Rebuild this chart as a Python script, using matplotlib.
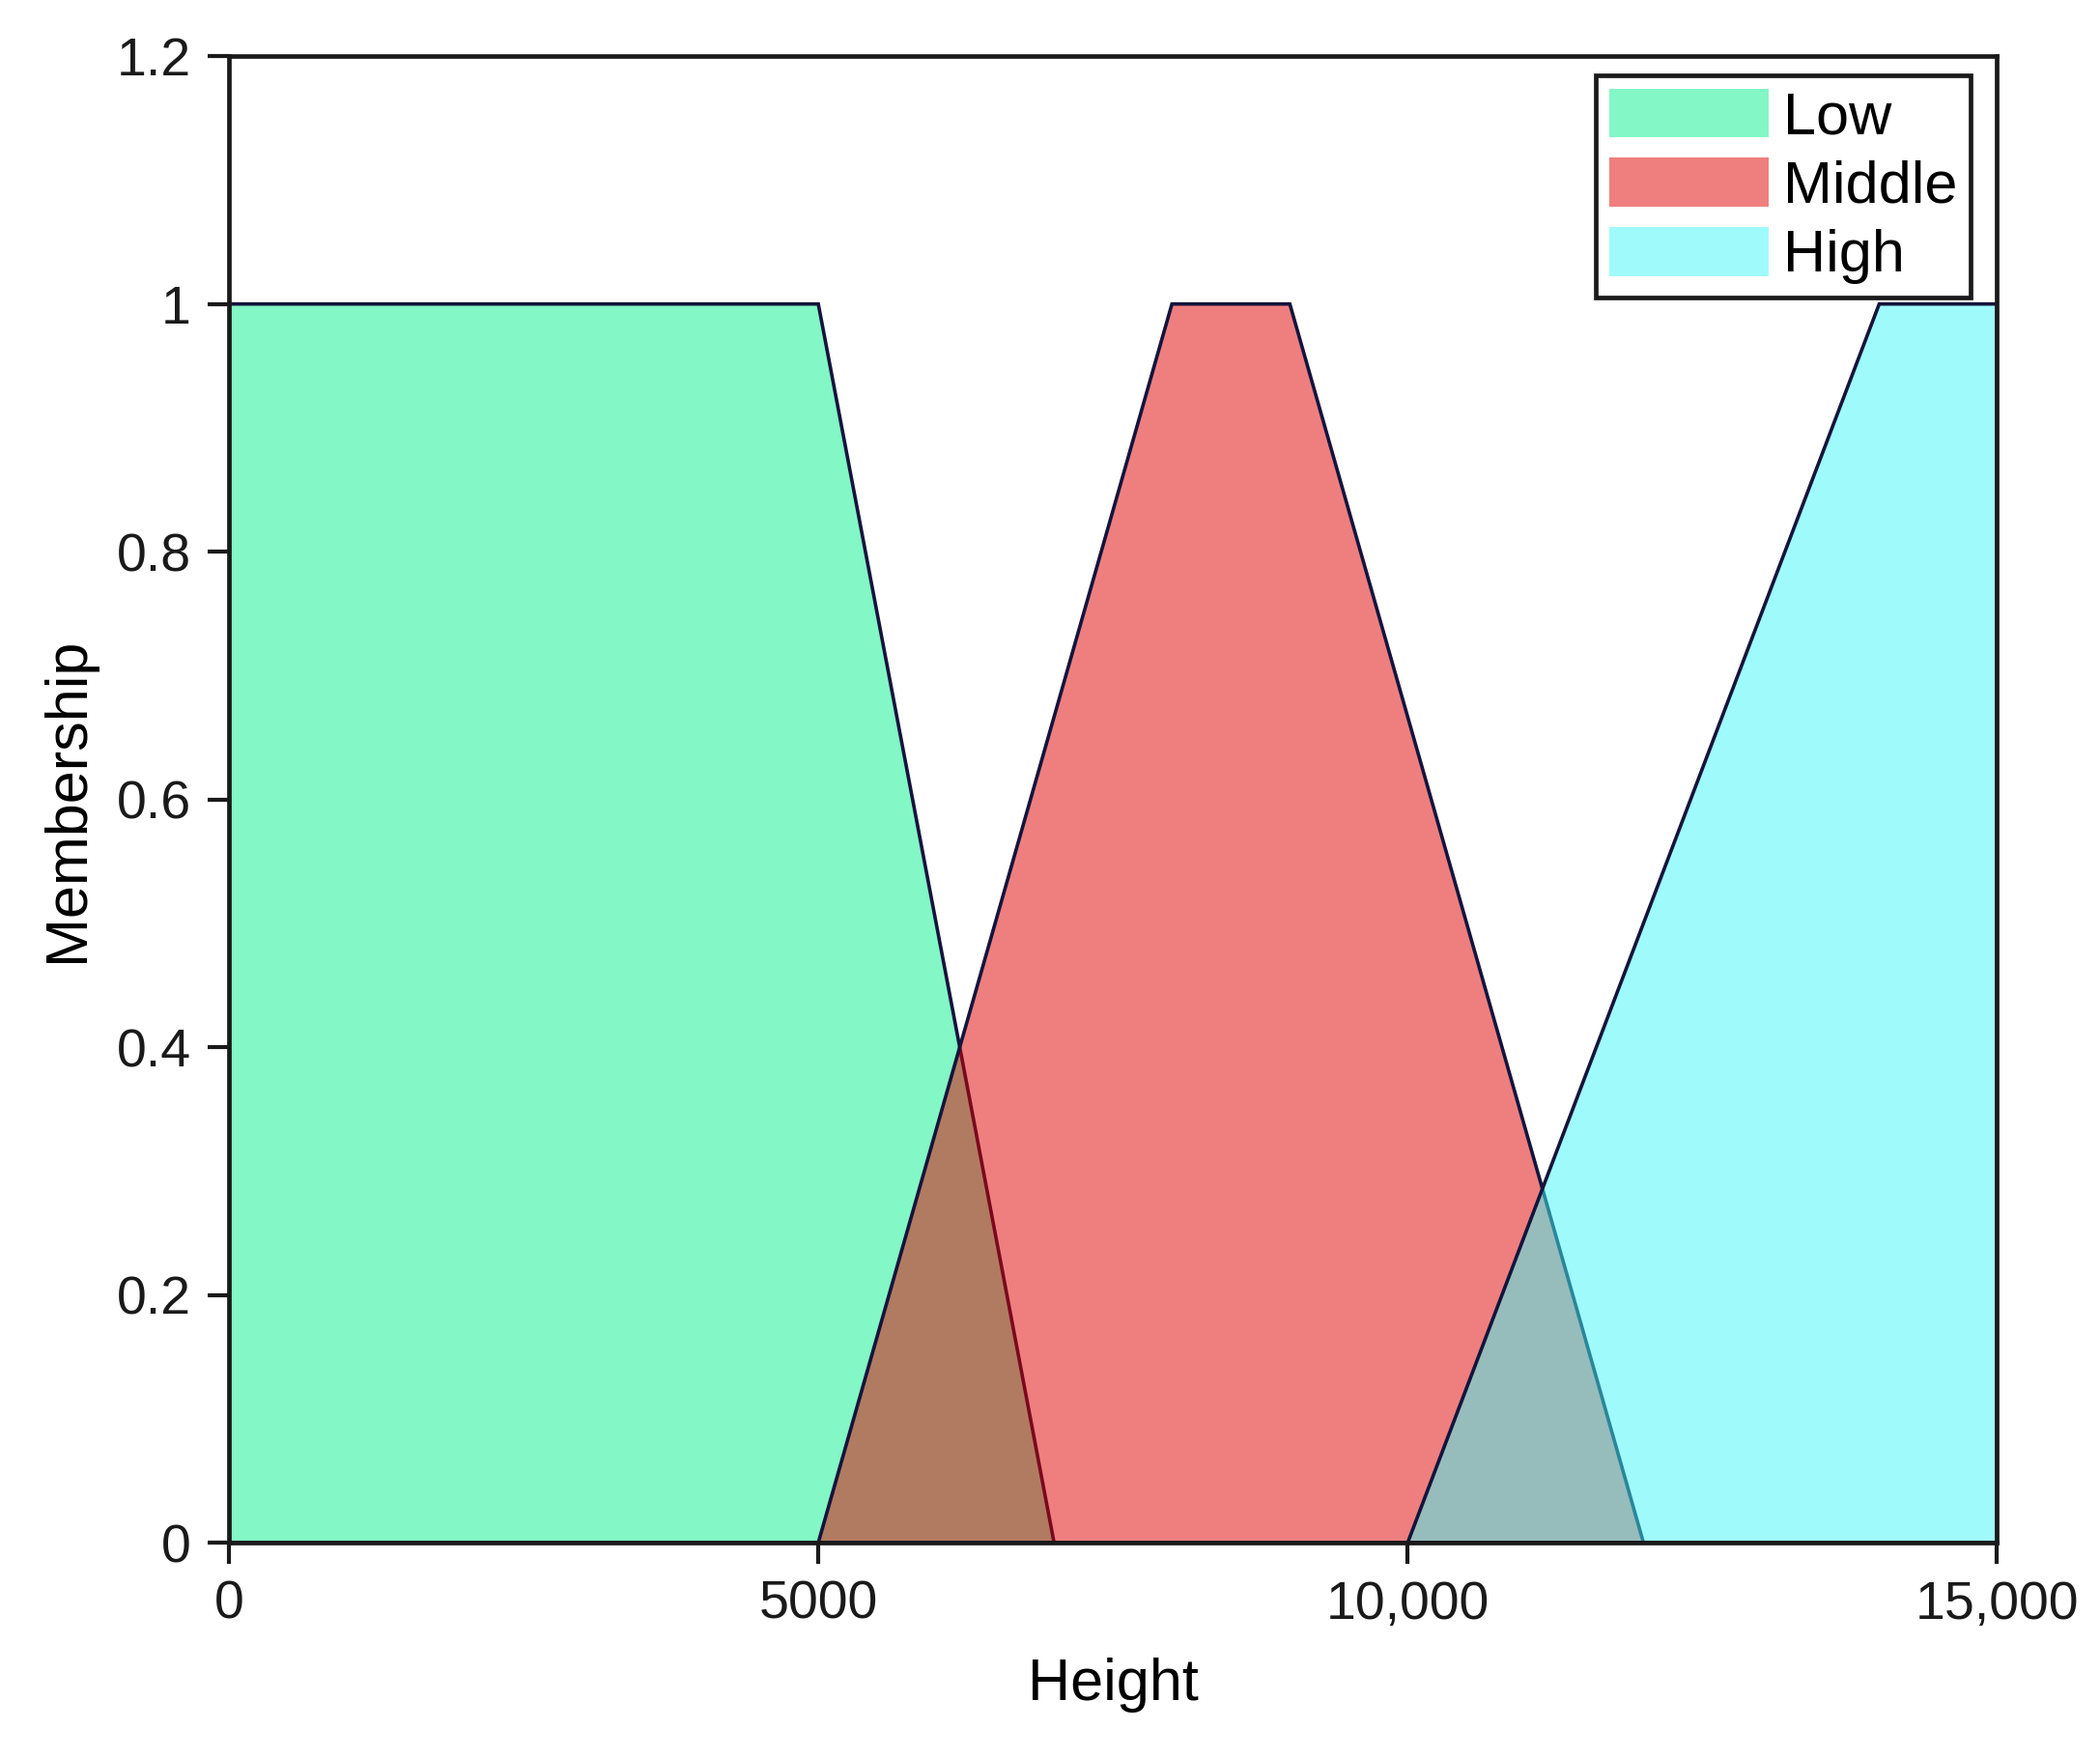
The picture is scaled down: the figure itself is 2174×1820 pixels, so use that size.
import matplotlib
matplotlib.use("Agg")
from matplotlib import pyplot as plt
from matplotlib.patches import Patch

plt.rcParams['font.family'] = ['Liberation Sans', 'DejaVu Sans']

# membership functions (trapezoids)
low_x = [0, 0, 5000, 7000]
low_y = [0, 1, 1, 0]
mid_x = [5000, 8000, 9000, 12000]
mid_y = [0, 1, 1, 0]
high_x = [10000, 14000, 15000, 15000]
high_y = [0, 1, 1, 0]

names = ['Low', 'Middle', 'High']
colors = [(0.035, 0.945, 0.553), (0.88, 0.0, 0.0), (0.255, 0.976, 0.976)]

x_ticks = [0, 5000, 10000, 15000]
x_labels = ['0', '5000', '10,000', '15,000']
y_ticks = [0, 0.2, 0.4, 0.6, 0.8, 1.0, 1.2]
y_labels = ['0', '0.2', '0.4', '0.6', '0.8', '1', '1.2']

fig = plt.figure(figsize=(21.74, 18.2), dpi=100)
ax = fig.add_axes([0.109, 0.1225, 0.842, 0.8455])

shapes = [(low_x, low_y), (mid_x, mid_y), (high_x, high_y)]
for (xs, ys), c in zip(shapes, colors):
    ax.fill(xs, ys, facecolor=(*c, 0.5), edgecolor='#14143c', linewidth=2.6)

ax.set_xlim(0, 15000)
ax.set_ylim(0, 1.2)
ax.set_xticks(x_ticks)
ax.set_xticklabels(x_labels)
ax.set_yticks(y_ticks)
ax.set_yticklabels(y_labels)
ax.tick_params(direction='out', length=16, width=3, labelsize=40, pad=12,
               colors='#1a1a1a')
for s in ax.spines.values():
    s.set_linewidth(3.4)
    s.set_color('#1a1a1a')

ax.set_xlabel('Height', fontsize=44, labelpad=20)
ax.set_ylabel('Membership', fontsize=44, labelpad=16)

handles = [Patch(facecolor=(*c, 0.5), edgecolor='none') for c in colors]
leg = ax.legend(handles, names, loc='upper right', fontsize=44,
                bbox_to_anchor=(0.985, 0.987), handlelength=2.7,
                handleheight=0.9, handletextpad=0.25, labelspacing=0.2,
                borderpad=0.22, fancybox=False, framealpha=1, borderaxespad=0)
leg.get_frame().set_edgecolor('#1a1a1a')
leg.get_frame().set_linewidth(3.4)

fig.savefig('out.png', dpi=100)
